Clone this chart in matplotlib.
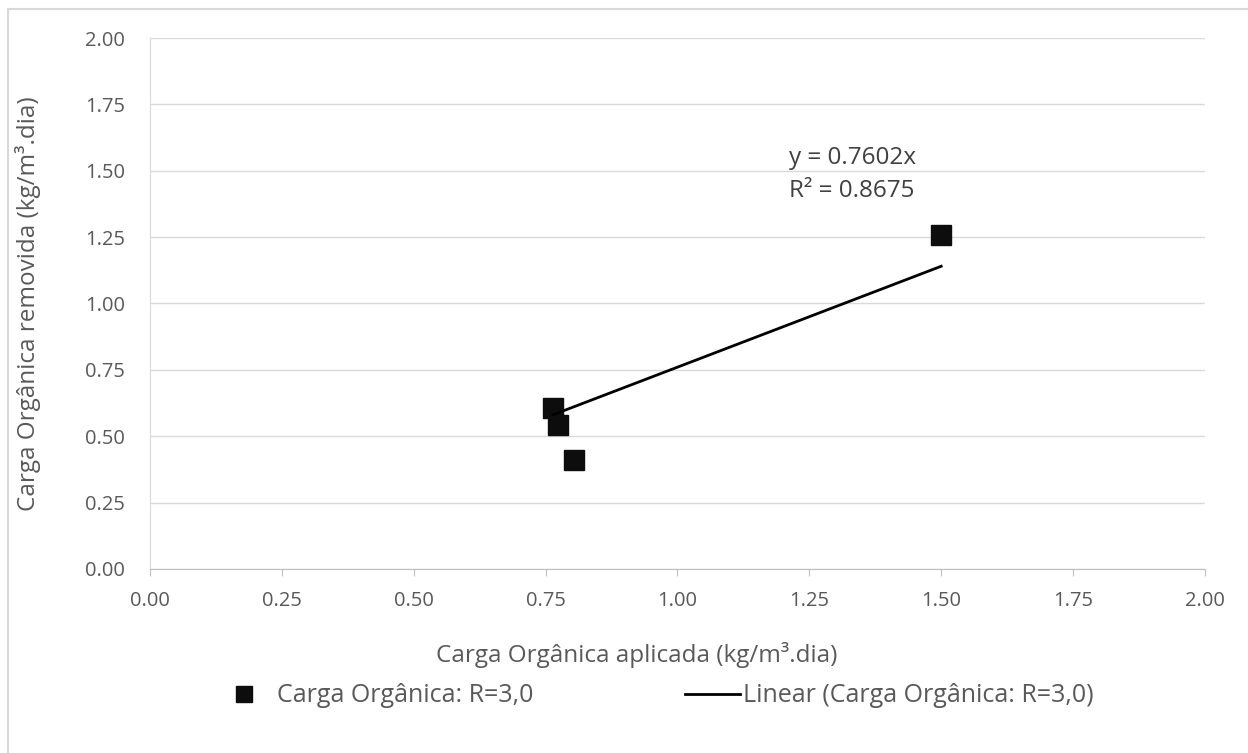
import matplotlib.pyplot as plt
import numpy as np
from matplotlib.lines import Line2D

plt.rcParams['font.family'] = ['Open Sans', 'DejaVu Sans']

# data
carga_aplicada = [0.764, 0.773, 0.804, 1.500]
carga_removida = [0.606, 0.542, 0.410, 1.258]
slope = 0.7602
r2 = 0.8675

ticks = [0.0, 0.25, 0.5, 0.75, 1.0, 1.25, 1.5, 1.75, 2.0]
tick_labels = ["%.2f" % t for t in ticks]

fig = plt.figure(figsize=(12.48, 7.53), dpi=100)
ax = fig.add_axes([0.1202, 0.2444, 0.8453, 0.7051])

pts, = ax.plot(carga_aplicada, carga_removida, 's', color='#0d0d0d', ms=14,
               mec='#0d0d0d', zorder=3)

xt = np.array([min(carga_aplicada), max(carga_aplicada)])
trend, = ax.plot(xt, slope * xt, '-', color='black', lw=2, zorder=4)

ax.text(1.212, 1.527, "y = %.4fx" % slope, fontsize=17.5, color='#404040')
ax.text(1.212, 1.402, "R² = %.4f" % r2, fontsize=17.5, color='#404040')

ax.set_xlim(0, 2)
ax.set_ylim(0, 2)
ax.set_xticks(ticks)
ax.set_xticklabels(tick_labels)
ax.set_yticks(ticks)
ax.set_yticklabels(tick_labels)
ax.tick_params(axis='both', labelsize=14.5, colors='#595959')
ax.tick_params(axis='y', length=0, pad=18)
ax.tick_params(axis='x', length=5, color='#bfbfbf', pad=11)
ax.grid(axis='y', color='#d9d9d9', lw=1)
ax.set_axisbelow(True)
for s in ['top', 'right']:
    ax.spines[s].set_visible(False)
ax.spines['bottom'].set_color('#bfbfbf')
ax.spines['left'].set_color('#d9d9d9')

ax.set_xlabel('Carga Orgânica aplicada (kg/m³.dia)', fontsize=17.5,
              color='#595959', labelpad=22)
ax.xaxis.label.set_x(0.461)
ax.set_ylabel('Carga Orgânica removida (kg/m³.dia)', fontsize=17.5,
              color='#595959', labelpad=32)

# legend entries placed separately, like the Excel layout
leg1 = fig.legend([Line2D([], [], ls='none', marker='s', ms=12, color='#0d0d0d')],
                  ['Carga Orgânica: R=3,0'], loc='center left',
                  bbox_to_anchor=(231 / 1248, 0.076), borderaxespad=0,
                  borderpad=0, frameon=False, fontsize=18, handlelength=1.0,
                  handletextpad=0.85, labelcolor='#595959')
leg2 = fig.legend([Line2D([], [], color='black', lw=2)],
                  ['Linear (Carga Orgânica: R=3,0)'], loc='center left',
                  bbox_to_anchor=(685 / 1248, 0.076), borderaxespad=0,
                  borderpad=0, frameon=False, fontsize=18, handlelength=2.2,
                  handletextpad=0.1, labelcolor='#595959')

# chart area border (left and top visible)
fig.add_artist(Line2D([8 / 1248, 8 / 1248], [0, 1 - 9 / 753],
                      transform=fig.transFigure, color='#d9d9d9', lw=1.5))
fig.add_artist(Line2D([8 / 1248, 1], [1 - 9 / 753, 1 - 9 / 753],
                      transform=fig.transFigure, color='#d9d9d9', lw=1.5))

fig.savefig('out.png', dpi=100)
